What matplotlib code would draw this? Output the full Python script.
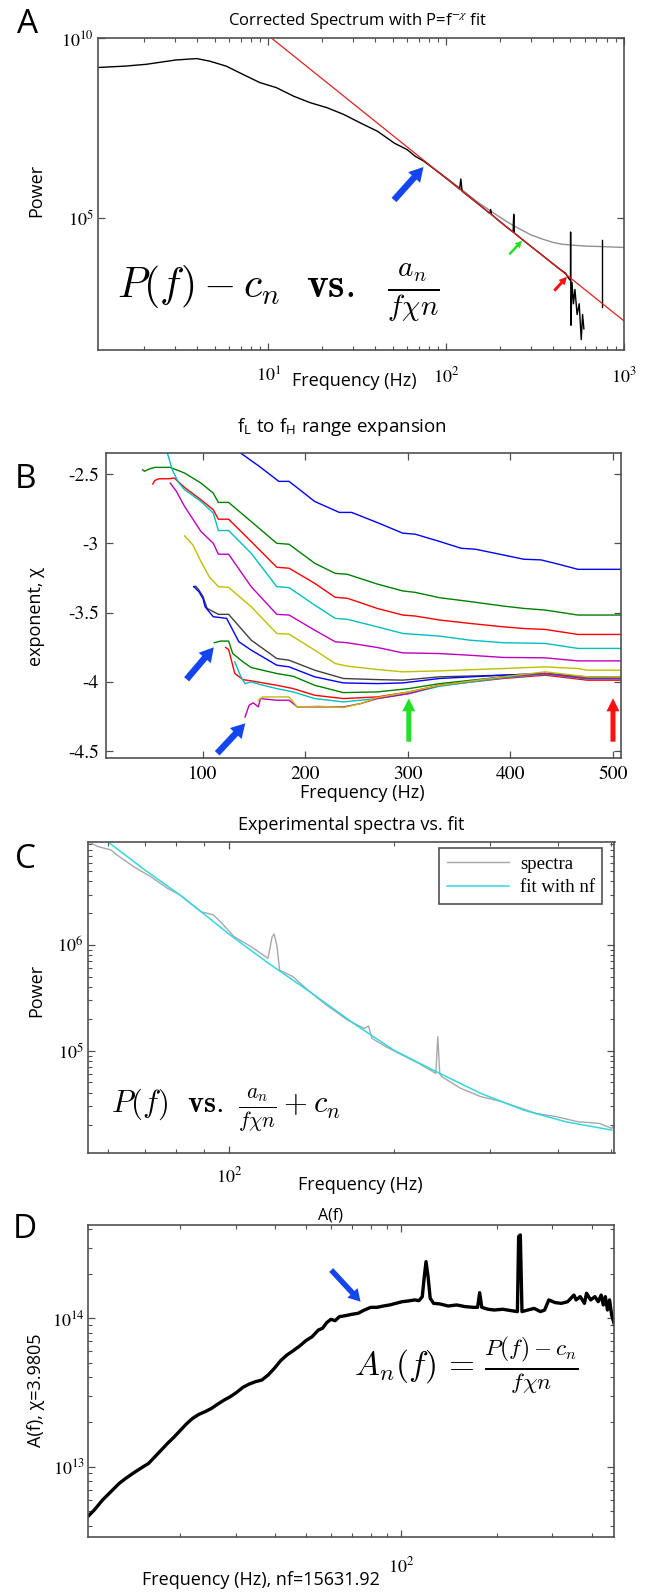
import numpy as np
import matplotlib
matplotlib.use('Agg')
import matplotlib.pyplot as plt
from matplotlib.patches import FancyArrow
from matplotlib.transforms import Affine2D
from matplotlib.ticker import FixedLocator, FixedFormatter, NullFormatter, NullLocator

plt.rcParams['font.family'] = ['Open Sans', 'DejaVu Sans']
plt.rcParams['mathtext.fontset'] = 'stix'
plt.rcParams['axes.unicode_minus'] = False

# ---------------- Panel A data (log10 values) ----------------
a_black_f = [1.09, 1.57, 2.06, 3.02, 3.96, 4.67, 5.8, 7.2, 8.97, 11.1, 13.9, 17.2, 21.4, 26.6,
             33.1, 41.2, 51.2, 60.4, 67.2, 74.8, 90, 110, 119, 121, 123, 140, 160, 176, 178,
             180, 200, 220, 238, 240, 242, 270, 300, 350, 400, 440, 470, 490, 500, 501, 503,
             510, 520, 530, 545, 560, 575, 585, 595]
a_black_logp = [9.19, 9.23, 9.28, 9.40, 9.44, 9.37, 9.23, 9.00, 8.77, 8.63, 8.39, 8.21, 8.07, 7.88,
                7.64, 7.41, 7.08, 6.90, 6.71, 6.58, 6.28, 5.94, 5.80, 6.08, 5.74, 5.52, 5.29, 5.12, 5.23,
                5.09, 4.90, 4.73, 4.60, 5.09, 4.57, 4.38, 4.20, 3.94, 3.71, 3.55, 3.45, 3.30, 3.25, 4.60, 2.0,
                3.2, 2.6, 3.0, 2.3, 2.6, 1.6, 2.3, 1.9]
a_gray_f = [90, 120, 150, 180, 210, 239, 240, 241, 270, 300, 350, 400, 450, 500, 600, 700, 800, 1000]
a_gray_logp = [6.29, 5.82, 5.44, 5.17, 4.95, 4.78, 5.10, 4.77, 4.64, 4.52, 4.40, 4.31, 4.26, 4.24,
               4.21, 4.20, 4.19, 4.17]
a_spike_f = [750, 750]
a_spike_logp = [4.37, 2.50]
a_fit_f = [8.0, 1000.0]
a_fit_logp = [10.47, 2.12]

# ---------------- Panel B data ----------------
b_f = [
    [128, 137, 155, 174, 184, 209, 233, 245, 270, 295, 307, 331, 352, 366, 393, 413, 430, 446, 466, 475, 508],
    [41, 43, 47, 53, 68, 82, 98, 110, 115, 125, 147, 172, 184, 209, 229, 241, 270, 295, 307, 331, 360, 393, 413, 434, 466, 475, 508],
    [51, 53, 57, 66, 72, 82, 98, 110, 115, 125, 147, 172, 184, 209, 229, 241, 270, 295, 307, 331, 360, 393, 413, 434, 466, 475, 508],
    [62, 65, 70, 76, 82, 98, 110, 115, 125, 147, 172, 184, 209, 229, 241, 270, 295, 331, 360, 393, 434, 466, 475, 508],
    [68, 74, 82, 98, 110, 115, 125, 147, 172, 184, 209, 229, 241, 270, 295, 331, 360, 393, 434, 466, 475, 508],
    [82, 90, 98, 106, 115, 125, 147, 172, 184, 209, 229, 241, 270, 295, 331, 393, 434, 466, 475, 508],
    [91, 93, 96, 100, 104, 115, 125, 147, 172, 184, 209, 237, 270, 295, 331, 393, 434, 475, 508],
    [91, 96, 100, 102, 110, 123, 135, 147, 172, 184, 209, 237, 270, 295, 331, 393, 434, 475, 508],
    [111, 117, 125, 129, 139, 147, 172, 188, 209, 237, 270, 301, 331, 393, 434, 475, 508],
    [122, 125, 131, 139, 147, 172, 188, 209, 237, 270, 301, 331, 393, 434, 475, 508],
    [131, 137, 141, 147, 156, 172, 188, 209, 237, 270, 301, 331, 393, 434, 475, 508],
    [141, 145, 149, 154, 156, 172, 184, 192, 213, 237, 254, 270, 301, 331, 393, 434, 475, 508],
    [154, 158, 172, 184, 192, 213, 237, 254, 270, 301, 331, 393, 434, 475, 508],
]
b_chi = [
    [-2.28, -2.35, -2.445, -2.553, -2.553, -2.698, -2.777, -2.777, -2.85, -2.927, -2.934, -2.987, -3.036, -3.043, -3.084, -3.115, -3.12, -3.149, -3.188, -3.188, -3.188],
    [-2.47, -2.48, -2.465, -2.452, -2.452, -2.493, -2.565, -2.638, -2.705, -2.705, -2.843, -3.0, -3.007, -3.144, -3.217, -3.224, -3.294, -3.344, -3.354, -3.393, -3.42, -3.453, -3.47, -3.482, -3.518, -3.518, -3.518],
    [-2.572, -2.546, -2.534, -2.534, -2.529, -2.597, -2.686, -2.758, -2.826, -2.826, -2.987, -3.173, -3.18, -3.289, -3.39, -3.397, -3.47, -3.518, -3.525, -3.554, -3.578, -3.603, -3.615, -3.622, -3.658, -3.658, -3.658],
    [-2.25, -2.343, -2.47, -2.56, -2.613, -2.698, -2.782, -2.908, -2.908, -3.072, -3.313, -3.32, -3.446, -3.542, -3.549, -3.603, -3.651, -3.67, -3.699, -3.718, -3.723, -3.759, -3.759, -3.759],
    [-2.565, -2.625, -2.734, -2.915, -3.0, -3.079, -3.079, -3.313, -3.513, -3.518, -3.627, -3.711, -3.718, -3.752, -3.791, -3.796, -3.808, -3.824, -3.827, -3.849, -3.849, -3.849],
    [-2.946, -3.011, -3.132, -3.241, -3.313, -3.318, -3.458, -3.651, -3.656, -3.771, -3.868, -3.887, -3.911, -3.928, -3.921, -3.904, -3.892, -3.904, -3.916, -3.916],
    [-3.313, -3.31, -3.337, -3.385, -3.47, -3.513, -3.513, -3.699, -3.832, -3.844, -3.916, -3.976, -3.984, -3.988, -3.964, -3.952, -3.94, -3.964, -3.964],
    [-3.313, -3.35, -3.40, -3.458, -3.53, -3.542, -3.711, -3.771, -3.88, -3.892, -3.964, -4.008, -4.013, -4.008, -3.976, -3.952, -3.94, -3.976, -3.976],
    [-3.718, -3.706, -3.706, -3.796, -3.856, -3.897, -3.94, -3.96, -4.025, -4.078, -4.073, -4.049, -4.013, -3.964, -3.94, -3.976, -3.976],
    [-3.752, -3.767, -3.94, -3.984, -3.993, -4.025, -4.049, -4.097, -4.121, -4.109, -4.073, -4.025, -3.976, -3.952, -3.988, -3.988],
    [-3.856, -3.964, -4.013, -4.0, -4.02, -4.049, -4.073, -4.121, -4.145, -4.121, -4.085, -4.032, -3.971, -3.945, -3.98, -3.98],
    [-4.254, -4.169, -4.152, -4.181, -4.121, -4.133, -4.133, -4.181, -4.181, -4.181, -4.157, -4.121, -4.085, -4.025, -3.964, -3.94, -3.976, -3.976],
    [-4.133, -4.109, -4.109, -4.109, -4.181, -4.176, -4.186, -4.157, -4.114, -4.073, -4.025, -3.964, -3.928, -3.964, -3.964],
]
b_colors = ['#0000ff', '#008000', '#ff0000', '#00bfbf', '#bf00bf', '#bfbf00', '#404040',
            '#0000ff', '#008000', '#ff0000', '#00bfbf', '#bf00bf', '#bfbf00']

# ---------------- Panel C data ----------------
c_spec_f = [55, 57.5, 60.6, 62.3, 66.8, 71.7, 77, 81.2, 88.7, 93.5, 96.9, 102, 109.6, 117.7, 119.8,
            120.8, 122.3, 123.6, 130.8, 140.4, 150.6, 164.6, 176.6, 179.9, 182.5, 193.5, 207.3,
            222.3, 239, 241, 243, 245, 265.4, 289, 303, 316, 365, 398, 435, 476, 502, 507]
c_spec_logp = [6.978, 6.93, 6.90, 6.85, 6.74, 6.647, 6.536, 6.473, 6.315, 6.284, 6.205, 6.079, 5.984,
               5.874, 6.079, 6.104, 5.984, 5.763, 5.70, 5.558, 5.432, 5.29, 5.211, 5.233, 5.117,
               5.038, 4.959, 4.88, 4.785, 5.132, 4.78, 4.754, 4.644, 4.565, 4.54, 4.517, 4.407,
               4.375, 4.328, 4.312, 4.265, 4.297]
c_fit_f = [59.8, 70, 81.2, 90, 100, 117.7, 140.4, 170.6, 200, 243, 289, 346, 413, 502]
c_fit_logp = [6.978, 6.71, 6.473, 6.29, 6.10, 5.83, 5.558, 5.243, 5.006, 4.785, 4.596, 4.438, 4.328, 4.249]

# ---------------- Panel D data ----------------
d_f = [10.2, 10.7, 11.36, 12.07, 12.84, 13.45, 14.29, 15.18, 15.89, 16.64, 17.42, 18.24, 19.09,
       19.99, 20.92, 21.90, 22.93, 23.99, 25.12, 26.30, 27.53, 28.82, 30.17, 31.58, 33.06, 34.61,
       36.23, 37.93, 39.70, 41.56, 43.51, 45.55, 47.68, 49.89, 52.24, 54.68, 56.36, 58.10, 59.90,
       61.76, 63.68, 66.65, 69.77, 73.03, 76.44, 80.02, 83.80, 87.70, 91.8, 96.1, 100.6, 105.3,
       110.3, 113.7, 116.5, 117.9, 119.7, 121.5, 123.4, 126.5, 132.4, 140.7, 149.6, 159.0, 169.0,
       174.2, 176.9, 179.6, 188.0, 196.8, 209.2, 222.3, 232.8, 234.9, 237.8, 240.7, 251.2, 263.0,
       275.3, 283.8, 292.6, 306.3, 320.6, 335.6, 351.4, 356.8, 367.8, 379.2, 385.0, 396.9, 409.2,
       419.3, 428.4, 434.9, 441.6, 448.4, 455.3, 462.3, 472.2]
d_logA = [12.663, 12.708, 12.775, 12.831, 12.888, 12.921, 12.960, 12.996, 13.022, 13.067, 13.112,
          13.157, 13.198, 13.243, 13.288, 13.326, 13.353, 13.371, 13.393, 13.422, 13.449, 13.472,
          13.501, 13.535, 13.557, 13.573, 13.584, 13.618, 13.663, 13.715, 13.753, 13.782, 13.813,
          13.849, 13.876, 13.921, 13.933, 13.971, 13.993, 13.984, 14.011, 14.018, 14.027, 14.034,
          14.056, 14.074, 14.074, 14.083, 14.090, 14.101, 14.112, 14.117, 14.124, 14.119, 14.146,
          14.258, 14.382, 14.281, 14.135, 14.101, 14.097, 14.083, 14.090, 14.079, 14.074, 14.074,
          14.173, 14.074, 14.061, 14.056, 14.061, 14.052, 14.045, 14.551, 14.562, 14.045, 14.056,
          14.067, 14.045, 14.056, 14.124, 14.106, 14.101, 14.112, 14.157, 14.124, 14.146, 14.101,
          14.169, 14.124, 14.146, 14.112, 14.157, 14.090, 14.146, 14.056, 14.124, 14.022, 13.955]

# ---------------- Figure ----------------
W, H = 657, 1593
fig = plt.figure(figsize=(W / 100, H / 100), dpi=100)
PX = Affine2D().scale(1 / 100, -1 / 100).translate(0, H / 100) + fig.dpi_scale_trans

SPINE = '#505050'
SANS = ['Open Sans', 'DejaVu Sans']


def box(l, t, r, b):
    return [l / W, 1 - b / H, (r - l) / W, (b - t) / H]


def style(ax):
    for s in ax.spines.values():
        s.set_color(SPINE)
        s.set_linewidth(1.2)
    ax.tick_params(which='both', direction='in', top=True, right=True, color=SPINE,
                   labelsize=13)
    ax.tick_params(which='major', length=5, width=0.9)
    ax.tick_params(which='minor', length=3, width=0.8)


def arrow(x0, y0, x1, y1, color, w, hw, hl):
    fig.add_artist(FancyArrow(x0, y0, x1 - x0, y1 - y0, width=w, head_width=hw, head_length=hl,
                              length_includes_head=True, color=color, lw=0, transform=PX))


def txt(x, y, s, **kw):
    kw.setdefault('family', SANS)
    fig.text(x, y, s, transform=PX, **kw)


def p10(v):
    return 10 ** np.asarray(v, dtype=float)


# ---- Panel A ----
axA = fig.add_axes(box(97.7, 38.5, 624, 350))
axA.set_xscale('log'); axA.set_yscale('log')
axA.plot(a_gray_f, p10(a_gray_logp), color='#909090', lw=1.0)
axA.plot(a_black_f, p10(a_black_logp), color='black', lw=1.0)
axA.plot(a_spike_f, p10(a_spike_logp), color='black', lw=1.0)
axA.plot(a_fit_f, p10(a_fit_logp), color='#e02020', lw=0.9)
axA.set_xlim(1.1, 1000)
axA.set_ylim(10 ** 1.31, 1e10)
style(axA)
axA.yaxis.set_major_locator(FixedLocator([1e5, 1e10]))
axA.yaxis.set_major_formatter(FixedFormatter([r'$10^{5}$', r'$10^{10}$']))
axA.yaxis.set_minor_locator(NullLocator())
axA.xaxis.set_major_locator(FixedLocator([10, 100, 1000]))
axA.xaxis.set_major_formatter(FixedFormatter([r'$10^{1}$', r'$10^{2}$', r'$10^{3}$']))
axA.xaxis.set_minor_formatter(NullFormatter())
axA.tick_params(axis='x', pad=12)
axA.tick_params(axis='y', pad=3)
fig.text(117 / W, 1 - 293 / H, r'$P(f) - c_n\ \ \mathbf{vs.}\ \ \frac{a_n}{f\chi n}$', fontsize=30,
         va='center', ha='left', math_fontfamily='cm')
txt(17, 8, 'A', fontsize=24, va='top')
txt(357, 21, r'Corrected Spectrum with P=f$^{-\chi}$ fit', fontsize=12, ha='center', va='center')
txt(36, 190, 'Power', fontsize=13, rotation=90, ha='center', va='center')
txt(354, 381, 'Frequency (Hz)', fontsize=13, ha='center', va='center')
arrow(394, 200, 423.5, 167, '#1446f0', 6.5, 16, 14)
arrow(509.4, 254.3, 522, 240.7, '#22e022', 2.5, 7, 7)
arrow(554.3, 290.7, 567, 276.7, '#ff1010', 3.0, 8, 8)

# ---- Panel B ----
axB = fig.add_axes(box(105.7, 452.7, 621, 758))
for fx, cx, col in zip(b_f, b_chi, b_colors):
    axB.plot(fx, cx, color=col, lw=1.0)
axB.set_xlim(5, 508)
axB.set_ylim(-4.55, -2.346)
style(axB)
axB.xaxis.set_major_locator(FixedLocator([100, 200, 300, 400, 500]))
axB.yaxis.set_major_locator(FixedLocator([-4.5, -4, -3.5, -3, -2.5]))
axB.yaxis.set_major_formatter(FixedFormatter(['-4.5', '-4', '-3.5', '-3', '-2.5']))
axB.tick_params(axis='x', pad=6)
axB.tick_params(axis='y', pad=5)
for lbl in axB.get_xticklabels() + axB.get_yticklabels():
    lbl.set_fontfamily('STIXGeneral')
    lbl.set_fontsize(14)
txt(342, 427, r'f$_\mathregular{L}$ to f$_\mathregular{H}$ range expansion', fontsize=13.5, ha='center', va='center')
txt(15, 463, 'B', fontsize=24, va='top')
txt(36, 617, 'exponent, χ', fontsize=13, rotation=90, ha='center', va='center')
txt(362, 793, 'Frequency (Hz)', fontsize=13, ha='center', va='center')
arrow(186.6, 679.3, 213.8, 647.3, '#1446f0', 6.5, 16, 14)
arrow(217.2, 753.3, 245.3, 723.3, '#1446f0', 6.5, 16, 14)
arrow(408.8, 741.7, 408.8, 698.3, '#22e022', 5, 13, 13)
arrow(613, 741.7, 613, 698.3, '#ff1010', 5, 13, 13)

# ---- Panel C ----
axC = fig.add_axes(box(87.7, 841.7, 614.5, 1153))
axC.set_xscale('log'); axC.set_yscale('log')
axC.plot(c_spec_f, p10(c_spec_logp), color='#a8a8a8', lw=1.0, label='spectra')
axC.plot(c_fit_f, p10(c_fit_logp), color='#30d8e0', lw=1.1, label='fit with nf')
axC.set_xlim(55, 508)
axC.set_ylim(10 ** 4.032, 10 ** 6.977)
style(axC)
axC.xaxis.set_major_locator(FixedLocator([100]))
axC.xaxis.set_major_formatter(FixedFormatter([r'$10^{2}$']))
axC.xaxis.set_minor_locator(FixedLocator([60, 70, 80, 90, 200, 300, 400, 500]))
axC.xaxis.set_minor_formatter(NullFormatter())
axC.yaxis.set_major_locator(FixedLocator([1e5, 1e6]))
axC.yaxis.set_major_formatter(FixedFormatter([r'$10^{5}$', r'$10^{6}$']))
axC.yaxis.set_minor_formatter(NullFormatter())
axC.tick_params(axis='x', pad=10)
axC.tick_params(axis='y', pad=3)
leg = axC.legend(loc='upper right', bbox_to_anchor=((602.5 - 87.7) / 526.8, 1 - 6.3 / 311.3),
                 borderaxespad=0, prop={'family': 'Liberation Serif', 'size': 13.5},
                 handlelength=3.3, fancybox=False, framealpha=1, edgecolor=SPINE,
                 borderpad=0.4, labelspacing=0.35, handletextpad=0.6)
leg.get_frame().set_linewidth(1.2)
fig.text(111 / W, 1 - 1110 / H, r'$P(f)\ \ \mathbf{vs.}\ \frac{a_n}{f\chi n} + c_n$', fontsize=22,
         va='center', ha='left', math_fontfamily='cm')
txt(15, 843, 'C', fontsize=24, va='top')
txt(351, 825, 'Experimental spectra vs. fit', fontsize=13, ha='center', va='center')
txt(36, 990, 'Power', fontsize=13, rotation=90, ha='center', va='center')
txt(360, 1185, 'Frequency (Hz)', fontsize=13, ha='center', va='center')

# ---- Panel D ----
axD = fig.add_axes(box(87.7, 1225, 614.5, 1536.7))
axD.set_xscale('log'); axD.set_yscale('log')
axD.plot(d_f, p10(d_logA), color='black', lw=2.4)
axD.set_xlim(10.2, 472)
axD.set_ylim(10 ** 12.528, 10 ** 14.629)
style(axD)
axD.xaxis.set_major_locator(FixedLocator([100]))
axD.xaxis.set_major_formatter(FixedFormatter([r'$10^{2}$']))
axD.xaxis.set_minor_locator(FixedLocator([20, 30, 40, 50, 60, 70, 80, 90, 200, 300, 400]))
axD.xaxis.set_minor_formatter(NullFormatter())
axD.yaxis.set_major_locator(FixedLocator([1e13, 1e14]))
axD.yaxis.set_major_formatter(FixedFormatter([r'$10^{13}$', r'$10^{14}$']))
axD.yaxis.set_minor_formatter(NullFormatter())
axD.tick_params(axis='x', pad=14)
axD.tick_params(axis='y', pad=2)
fig.text(354 / W, 1 - 1365 / H, r'$A_n(f)\, =\, \frac{P(f) - c_n}{f\chi n}$', fontsize=24,
         va='center', ha='left', math_fontfamily='cm')
txt(13, 1213, 'D', fontsize=24, va='top')
txt(331, 1215, 'A(f)', fontsize=11.5, ha='center', va='center')
txt(36, 1390, 'A(f), χ=3.9805', fontsize=13, rotation=90, ha='center', va='center')
txt(261, 1580, 'Frequency (Hz), nf=15631.92', fontsize=13, ha='center', va='center')
arrow(331.2, 1270, 360.6, 1301.7, '#1446f0', 5.5, 14, 12)

fig.savefig('out.png', dpi=100)
